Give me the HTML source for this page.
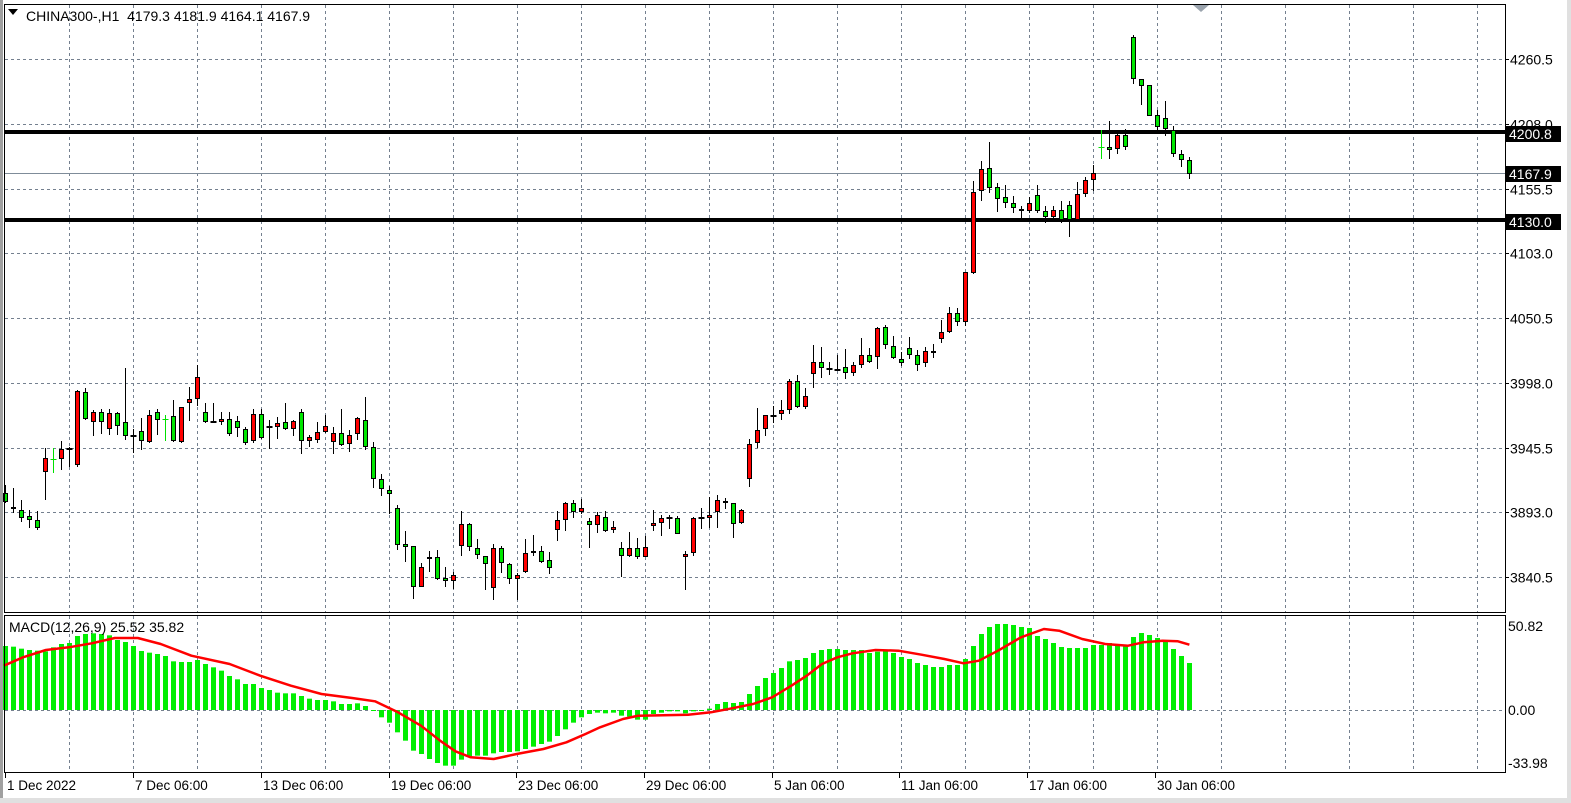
<!DOCTYPE html>
<html><head><meta charset="utf-8">
<style>
html,body{margin:0;padding:0;background:#fff;}
svg{display:block;font-family:"Liberation Sans",sans-serif;}
</style></head><body>
<svg id="c" width="1571" height="803" xmlns="http://www.w3.org/2000/svg">
<rect x="0" y="0" width="1571" height="803" fill="#fff"/>
<rect x="0" y="0" width="3" height="803" fill="#a0a0a0"/>
<rect x="1567" y="0" width="4" height="803" fill="#e0e0e0"/>
<rect x="0" y="798" width="1571" height="5" fill="#e0e0e0"/>
<g id="grid"></g>
<g id="lvl"></g>
<g id="cnd"></g>
<g id="mac"></g>
<rect x="4.5" y="4.5" width="1501" height="608" fill="none" stroke="#000" stroke-width="1"/>
<rect x="4.5" y="615.5" width="1501" height="157" fill="none" stroke="#000" stroke-width="1"/>
<polygon points="1193,5 1209,5 1201,12" fill="#9aa3ad"/>
<polygon points="8,9 18,9 13,15" fill="#000"/>
<text x="26" y="21" font-size="14" fill="#000" xml:space="preserve">CHINA300-,H1  4179.3 4181.9 4164.1 4167.9</text>
<text x="9" y="632" font-size="14" fill="#000">MACD(12,26,9) 25.52 35.82</text>
<g id="axis" font-size="14" fill="#000"></g>
</svg>
<script>
var NS="http://www.w3.org/2000/svg";
function el(p,t,a,txt){var e=document.createElementNS(NS,t);for(var k in a)e.setAttribute(k,a[k]);if(txt!==undefined)e.textContent=txt;document.getElementById(p).appendChild(e);return e;}
for(var x=69;x<1505;x+=64){
 el('grid','line',{x1:x+.5,y1:5,x2:x+.5,y2:612,stroke:'#74808f','stroke-dasharray':'3,3'});
 el('grid','line',{x1:x+.5,y1:616,x2:x+.5,y2:772,stroke:'#74808f','stroke-dasharray':'3,3'});
}
var prices=["4260.5","4208.0","4155.5","4103.0","4050.5","3998.0","3945.5","3893.0","3840.5"];
for(var i=0;i<9;i++){var y=Math.round(59+i*64.75)+.5;
 el('grid','line',{x1:5,y1:y,x2:1505,y2:y,stroke:'#74808f','stroke-dasharray':'3,3'});
 el('axis','line',{x1:1505,y1:y,x2:1509,y2:y,stroke:'#000'});
 el('axis','text',{x:1510,y:y+5},prices[i]);
}
el('grid','line',{x1:5,y1:710.5,x2:1505,y2:710.5,stroke:'#74808f','stroke-dasharray':'3,3'});
el('axis','text',{x:1508,y:631},"50.82");
el('axis','text',{x:1508,y:715},"0.00");
el('axis','text',{x:1508,y:768},"-33.98");
var dl=[[5,"1 Dec 2022"],[133,"7 Dec 06:00"],[261,"13 Dec 06:00"],[389,"19 Dec 06:00"],[516,"23 Dec 06:00"],[644,"29 Dec 06:00"],[772,"5 Jan 06:00"],[899,"11 Jan 06:00"],[1027,"17 Jan 06:00"],[1155,"30 Jan 06:00"]];
dl.forEach(function(d){el('axis','line',{x1:d[0]+.5,y1:773,x2:d[0]+.5,y2:778,stroke:'#000'});el('axis','text',{x:d[0]+2,y:790,'font-size':13.5},d[1]);});
el('lvl','line',{x1:5,y1:173.5,x2:1505,y2:173.5,stroke:'#7f8c99'});
el('lvl','rect',{x:5,y:130,width:1500,height:4,fill:'#000'});
el('lvl','rect',{x:5,y:218,width:1500,height:4,fill:'#000'});
[[126,"4200.8"],[166,"4167.9"],[214,"4130.0"]].forEach(function(l){
 el('axis','rect',{x:1506,y:l[0],width:55,height:16,fill:'#000'});
 el('axis','text',{x:1509,y:l[0]+13,fill:'#fff'},l[1]);
});
var C=[
['g',493,502,485,503],['g',507,509,488,513],['g',510,518,500,522],['g',516,520,510,528],['g',520,528,511,530],
['r',458,472,448,500],['x',459,459,448,473],['r',449,459,441,470],['d',449,449,447,467],['r',391,465,390,467],
['g',392,419,388,420],['r',412,422,410,436],['g',412,422,409,434],['r',413,429,409,435],['g',413,426,412,435],
['g',422,436,368,440],['d',436,436,429,453],['g',431,441,418,450],['r',415,442,410,443],['g',412,420,409,435],
['x',419,419,415,441],['g',416,441,400,442],['r',407,442,407,443],['r',399,403,387,421],['r',377,399,365,406],
['g',412,422,403,423],['d',422,422,403,423],['r',419,422,412,425],['g',419,434,412,436],['g',421,428,416,437],
['g',429,443,427,445],['r',414,441,409,443],['g',414,438,409,439],['d',427,427,420,449],['r',423,427,417,439],
['g',422,429,403,430],['r',421,429,420,436],['g',412,441,409,454],['r',437,441,435,447],['r',432,440,422,443],
['r',426,432,415,433],['r',433,442,427,454],['g',433,445,409,446],['r',435,444,430,452],['r',418,434,417,440],
['g',420,447,397,450],['g',447,479,442,488],['g',479,489,474,496],['g',490,494,486,514],['g',508,545,505,550],
['g',544,547,531,562],['g',546,587,546,599],['r',567,587,563,587],['r',557,559,551,572],['g',557,579,550,580],
['g',578,581,567,587],['r',575,581,572,589],['r',524,546,511,556],['g',524,547,523,551],['g',548,555,539,559],
['g',556,564,556,590],['r',548,588,544,600],['g',548,563,546,573],['g',564,579,563,584],['r',575,579,573,600],
['r',553,572,539,573],['r',551,553,535,556],['g',551,562,546,563],['g',560,568,552,574],['r',520,530,511,541],
['r',503,520,502,531],['g',503,512,500,518],['r',508,512,499,514],['g',521,525,518,548],['r',515,525,512,533],
['g',517,531,511,532],['r',527,530,521,533],['g',548,556,542,577],['r',548,556,532,557],['g',548,557,538,559],
['r',547,557,536,557],['r',523,526,510,531],['r',518,523,515,536],['d',518,518,515,529],['g',518,534,516,534],
['r',554,557,551,590],['r',518,553,517,556],['d',518,518,508,529],['r',515,518,497,528],['r',500,512,495,528],
['g',501,503,498,509],['g',503,524,503,538],['r',510,523,509,524],['r',444,479,439,487],['r',430,443,408,448],
['r',415,429,415,436],['d',416,416,406,423],['r',410,414,400,420],['r',381,410,379,414],['g',381,407,375,408],
['r',396,407,388,409],['r',362,374,345,388],['g',362,368,347,378],['d',369,369,362,375],['d',370,370,355,371],
['g',367,373,349,379],['r',365,373,362,376],['r',355,365,338,368],['g',355,362,348,363],['r',328,357,327,369],
['g',327,345,325,349],['g',346,358,336,359],['g',359,363,352,366],['g',348,355,337,359],['g',355,365,350,371],
['r',351,363,347,367],['g',351,353,344,358],['r',332,339,320,343],['r',313,332,307,333],['g',313,322,308,326],
['r',272,322,272,326],['r',192,273,181,274],['r',169,191,161,201],['g',168,188,142,193],['g',187,199,183,212],
['g',197,203,185,208],['g',203,208,196,213],['g',209,211,206,219],['r',203,211,197,213],['g',195,211,185,213],
['g',211,217,206,223],['r',210,217,206,219],['g',210,220,201,223],['g',205,220,201,237],['r',194,220,182,220],
['r',180,194,177,197],['r',173,180,165,191],['x',147,147,130,159],['g',147,150,121,159],['r',135,149,133,154],
['g',135,147,129,150],['g',37,79,35,84],['g',79,86,79,105],['g',85,116,85,116],['g',115,127,110,130],
['g',118,129,101,136],['g',130,154,126,157],['g',154,160,150,167],['g',160,174,157,179]
];
C.forEach(function(c,i){
 var x=5+8*i+.5;
 if(c[0]=='x'){
  el('cnd','line',{x1:x,y1:c[3],x2:x,y2:c[4],stroke:'#00e000'});
  el('cnd','line',{x1:x-3,y1:c[1]+.5,x2:x+3,y2:c[1]+.5,stroke:'#00e000'});return;}
 el('cnd','line',{x1:x,y1:c[3],x2:x,y2:c[4],stroke:'#000'});
 if(c[0]=='d'){el('cnd','rect',{x:x-3,y:c[1]-1,width:6,height:2,fill:'#000'});return;}
 var h=Math.max(c[2]-c[1],2);
 el('cnd','rect',{x:x-2,y:c[1]+.5,width:4,height:h-1,fill:c[0]=='g'?'#00e600':'#ff0000',stroke:'#000','stroke-width':1});
});
var H=[96,98,104,108,110,112,100,90,87,66,60,58,60,64,78,84,96,111,116,120,126,142,144,144,138,150,160,170,186,196,210,210,222,228,236,238,238,246,254,258,258,262,270,270,268,276,291,310,326,355,380,410,420,435,447,455,455,437,428,425,425,418,414,414,412,405,398,390,383,366,346,326,310,300,296,
298,296,305,308,317,317,300,296,292,292,298,292,289,284,270,264,267,264,240,216,192,177,162,142,138,132,117,108,105,105,108,108,108,117,113,112,117,129,135,147,153,159,159,153,153,135,96,60,39,30,30,33,39,42,66,75,87,99,102,102,102,93,93,87,90,93,69,57,63,72,84,105,126,147];
var Z=710;
H.forEach(function(v,i){
 var y=615+v/3-1; var x=5+8*i-2;
 var t=Math.min(y,Z),b=Math.max(y,Z); if(b-t<1)b=t+1;
 el('mac','rect',{x:x,y:t,width:5,height:b-t,fill:'#00ee00'});
});
var S1=[[10,155],[60,130],[120,108],[180,100],[240,88],[300,72],[360,72],[420,90],[500,125],[600,150],[680,185],[760,215],[840,240],[920,252],[980,262],[1040,295],[1100,335],[1150,380],[1190,412],[1230,430],[1290,435],[1350,420],[1420,405],[1480,385],[1530,360],[1568,340]];
var S2=[[60,315],[100,305],[230,302],[290,295],[340,284],[400,270],[450,250],[500,215],[540,185],[580,150],[620,130],[660,118],[720,108],[780,110],[840,122],[900,135],[950,148],[990,140],[1040,110],[1100,70],[1160,45],[1200,50],[1260,75],[1320,90],[1380,95],[1420,85],[1470,80],[1510,82],[1540,92]];
var pts=[];
S1.forEach(function(p){pts.push((p[0]/2.613).toFixed(1)+","+(615+p[1]/3-1).toFixed(1));});
S2.forEach(function(p){pts.push((600+p[0]/2.613).toFixed(1)+","+(615+p[1]/3-1).toFixed(1));});
el('mac','polyline',{points:pts.join(" "),fill:'none',stroke:'#ff0000','stroke-width':2.5,'stroke-linejoin':'round'});
</script>
</body></html>
